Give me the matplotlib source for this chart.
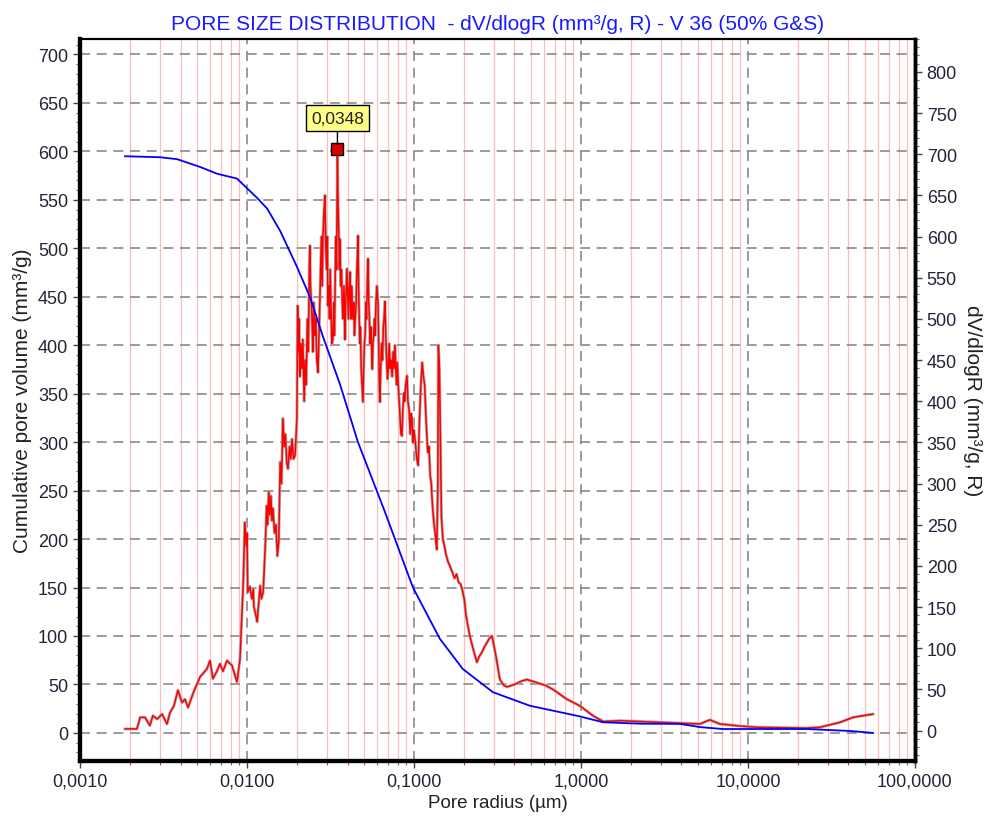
import numpy as np
import matplotlib.pyplot as plt
from matplotlib.ticker import MultipleLocator, LogLocator, FuncFormatter, NullFormatter

plt.rcParams['font.family'] = ['Liberation Sans', 'DejaVu Sans']

# pore radius (um) and dV/dlogR (mm3/g, right axis)
red_r = [0.00186, 0.00219, 0.00225, 0.00229, 0.00245, 0.00262, 0.00273, 0.00290, 0.00310, 0.00332,
         0.00346, 0.00365, 0.00386, 0.00408, 0.00425, 0.00444, 0.00475, 0.00523, 0.00576, 0.00600,
         0.00625, 0.00660, 0.00689, 0.00718, 0.00759, 0.00813, 0.00871, 0.00908,
         0.0095, 0.0097, 0.0099, 0.0100, 0.0101, 0.0104, 0.0107, 0.0109, 0.0110, 0.0113,
         0.0115, 0.0117, 0.0120, 0.0122, 0.0125, 0.0127, 0.0129, 0.0131, 0.0133, 0.0135,
         0.0137, 0.0139, 0.0141, 0.0143, 0.0146, 0.0149, 0.0152, 0.0155, 0.0158, 0.0161,
         0.0164, 0.0167, 0.0170, 0.0173, 0.0176, 0.0180, 0.0183, 0.0186, 0.0190, 0.0194,
         0.0197, 0.0199, 0.0201, 0.0203, 0.0205, 0.0207, 0.0210, 0.0213, 0.0216, 0.0220,
         0.0223, 0.0226, 0.0230, 0.0233, 0.0236, 0.0238, 0.0240, 0.0243, 0.0246, 0.0248,
         0.0251, 0.0255, 0.0258, 0.0262, 0.0266, 0.0270, 0.0273, 0.0276, 0.0279, 0.0282,
         0.0285, 0.0289, 0.0293, 0.0296, 0.0300, 0.0303, 0.0305, 0.0309, 0.0312, 0.0315,
         0.0318, 0.0322, 0.0327, 0.0331, 0.0334, 0.0337, 0.0340, 0.0344, 0.0348, 0.0351,
         0.0355, 0.0358, 0.0360, 0.0364, 0.0368, 0.0372, 0.0376, 0.0381, 0.0386, 0.0390,
         0.0397, 0.0401, 0.0405, 0.0410, 0.0414, 0.0419, 0.0423, 0.0426, 0.0431, 0.0436,
         0.0440, 0.0445, 0.0450, 0.0455, 0.0459, 0.0462, 0.0466, 0.0470, 0.0474, 0.0478,
         0.0483, 0.0489, 0.0495, 0.0500, 0.0505, 0.0510, 0.0515, 0.0520, 0.0526, 0.0531,
         0.0536, 0.0541, 0.0546, 0.0552, 0.0558, 0.0563, 0.0568, 0.0574, 0.0580, 0.0586,
         0.0592, 0.0600, 0.0609, 0.0615, 0.0620, 0.0625, 0.0632, 0.0640, 0.0648, 0.0655,
         0.0662, 0.0670, 0.0678, 0.0686, 0.0694, 0.0702, 0.0710, 0.0720, 0.0730, 0.0740,
         0.0750, 0.0760, 0.0769, 0.0778, 0.0787, 0.0795, 0.0805, 0.0815, 0.0826, 0.0836,
         0.0847, 0.0858, 0.0870, 0.0880, 0.0892, 0.0908, 0.0920, 0.0935, 0.0950, 0.0962,
         0.0973, 0.0985, 0.0997, 0.101, 0.103, 0.104, 0.106, 0.108, 0.110, 0.112,
         0.114, 0.116, 0.118, 0.120, 0.121, 0.123, 0.125, 0.127, 0.128, 0.130,
         0.132, 0.134, 0.136, 0.137, 0.139, 0.140, 0.142, 0.143, 0.145, 0.146,
         0.148, 0.149, 0.152, 0.155, 0.160, 0.164, 0.170, 0.175, 0.180, 0.185,
         0.190, 0.194, 0.200, 0.205, 0.210, 0.216, 0.227, 0.238, 0.246, 0.255,
         0.265, 0.274, 0.283, 0.293, 0.300, 0.310, 0.327, 0.345, 0.361, 0.40,
         0.44, 0.475, 0.51, 0.546, 0.61, 0.680, 0.825, 0.986, 1.18, 1.36,
         1.71, 3.92, 5.16, 5.92, 6.79, 8.95, 11.3, 22.5, 27.0, 35.6,
         42.6, 56.1]
red_v = [2, 2, 10, 16, 16, 6, 18, 14, 20, 8,
         22, 30, 49, 34, 38, 28, 45, 65, 75, 85,
         63, 72, 81, 72, 85, 79, 59, 87,
         180, 253, 224, 240, 168, 175, 160, 172, 150, 140,
         132, 150, 176, 160, 168, 200, 230, 273, 250, 290,
         262, 285, 255, 270, 240, 250, 212, 230, 326, 300,
         379, 345, 360, 325, 318, 345, 330, 354, 330, 334,
         360, 379, 516, 460, 500, 430, 470, 440, 475, 400,
         450, 420, 500, 460, 560, 589, 540, 520, 490, 460,
         520, 480, 500, 450, 435, 480, 520, 560, 600, 540,
         600, 630, 650, 590, 560, 600, 516, 540, 500, 560,
         520, 470, 475, 520, 480, 540, 600, 560, 706, 640,
         600, 560, 597, 540, 560, 520, 500, 540, 475, 520,
         561, 530, 500, 540, 557, 500, 540, 521, 500, 520,
         480, 500, 516, 560, 580, 601, 540, 500, 470, 490,
         440, 420, 399, 440, 470, 480, 520, 500, 550, 573,
         520, 500, 470, 490, 460, 439, 470, 480, 500, 480,
         520, 540, 520, 470, 420, 399, 440, 470, 450, 490,
         500, 521, 480, 450, 427, 440, 470, 440, 450, 430,
         460, 440, 468, 440, 420, 447, 420, 400, 380, 360,
         358, 390, 410, 400, 420, 431, 400, 390, 360, 385,
         379, 350, 365, 358, 340, 330, 322, 380, 420, 447,
         430, 419, 380, 350, 338, 345, 310, 300, 285, 265,
         250, 240, 225, 220, 300, 468, 440, 400, 300, 260,
         240, 232, 225, 215, 205, 200, 192, 185, 190, 180,
         178, 172, 160, 140, 128, 115, 98, 83, 90, 95,
         102, 107, 112, 115, 105, 90, 62, 55, 53, 56,
         60, 62, 60, 58, 55, 50, 38, 30, 18, 11,
         12, 9, 8, 13, 8, 5.5, 4, 3, 4, 10,
         16, 20]

# cumulative pore volume (mm3/g, left axis)
blue_r = [0.00186, 0.00301, 0.00381, 0.00523, 0.00661, 0.00871, 0.0100, 0.0115, 0.0132, 0.0158,
          0.0199, 0.0238, 0.0285, 0.0360, 0.0462, 0.0670, 0.0986, 0.143, 0.196, 0.297,
          0.495, 0.986, 1.355, 2.25, 3.92, 5.16, 7.08, 22.5, 40.8, 56.1]
blue_v = [595, 594, 592, 584, 577, 572, 562, 552, 541, 518,
          481, 450, 409, 360, 300, 228, 150, 97, 66, 42,
          28, 17, 11, 9.5, 9.3, 6, 4, 4, 2, 0]

peak_r = 0.0348
peak_v = 706
peak_label = "0,0348"

tick_col = '#22243a'

fig = plt.figure(figsize=(9.88, 8.28), dpi=100)
ax = fig.add_axes([0.081, 0.0797, 0.845, 0.872])
ax2 = ax.twinx()

ax.set_xscale('log')
ax.set_xlim(0.001, 100)

# grid
ax.xaxis.set_major_locator(LogLocator(base=10))
ax.xaxis.set_minor_locator(LogLocator(base=10, subs=np.arange(2, 10)))
ax.xaxis.set_minor_formatter(NullFormatter())
ax.xaxis.set_major_formatter(FuncFormatter(lambda v, p: f"{v:.4f}".replace('.', ',')))
ax.grid(which='minor', axis='x', color='#ffbcbc', lw=0.9, zorder=0)
ax.grid(which='major', axis='both', color='#8a8a8a', lw=1.2, ls=(0, (6, 4)), zorder=0)

ax.yaxis.set_major_locator(MultipleLocator(50))
ax.yaxis.set_minor_locator(MultipleLocator(10))
ax2.yaxis.set_major_locator(MultipleLocator(50))
ax2.yaxis.set_minor_locator(MultipleLocator(10))
ax.set_ylim(-29, 716)
ax2.set_ylim(-37, 840)

# curves
ax2.plot(red_r, red_v, color='#b4b4b4', lw=2.2, zorder=2)
ax2.plot(red_r, red_v, color='#ff0000', lw=1.1, zorder=3)
ax2.plot(blue_r, blue_v, color='#0000ff', lw=1.3, zorder=4, transform=ax.transData)

ax2.plot([peak_r], [peak_v], marker='s', ms=8, mfc='#dd0000', mec='black', mew=1, zorder=6)
ax2.annotate(peak_label, xy=(peak_r, peak_v + 6), xytext=(peak_r, 744),
             ha='center', va='center', fontsize=12.5, color='#222222', zorder=7,
             bbox=dict(boxstyle='square,pad=0.3', fc='#ffff88', ec='black', lw=1),
             arrowprops=dict(arrowstyle='-', color='black', lw=1, shrinkA=0, shrinkB=0))

# spines and ticks
for a in (ax, ax2):
    a.spines['left'].set_linewidth(3)
    a.spines['bottom'].set_linewidth(3)
    a.spines['right'].set_linewidth(2.5)
    a.spines['top'].set_linewidth(1.5)
    a.tick_params(which='major', length=5, width=1, colors='#444444', labelcolor=tick_col, labelsize=13)
    a.tick_params(which='minor', length=3, width=0.8, colors='#666666')

ax.set_xlabel("Pore radius (µm)", fontsize=13.5, color='#222222', labelpad=3)
ax.set_ylabel("Cumulative pore volume (mm³/g)", fontsize=15, color='#222222', labelpad=4)
ax2.set_ylabel("dV/dlogR (mm³/g, R)", fontsize=15, color='#222222', rotation=270, labelpad=18)
ax.set_title("PORE SIZE DISTRIBUTION  - dV/dlogR (mm³/g, R) - V 36 (50% G&S)",
             color='#1a1aff', fontsize=15, pad=7)

plt.savefig("out.png", dpi=100)
